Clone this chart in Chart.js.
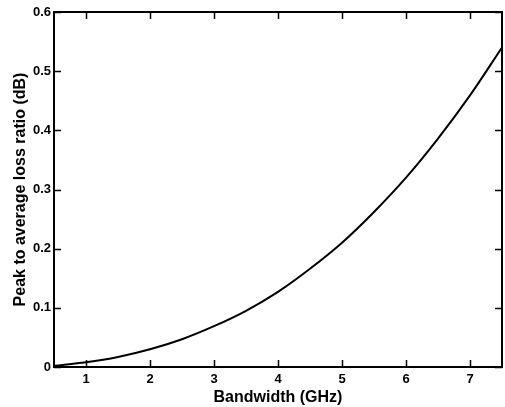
<!DOCTYPE html>
<html>
<head>
<meta charset="utf-8">
<script src="https://cdn.jsdelivr.net/npm/chart.js@4/dist/chart.umd.min.js"></script>
<style>
  html, body { margin: 0; padding: 0; background: #fff; }
  canvas { display: block; }
</style>
</head>
<body>
<canvas id="myChart" width="505" height="407"></canvas>
<script>
// values
const bandwidth = [0.5, 1, 1.5, 2, 2.5, 3, 3.5, 4, 4.5, 5, 5.5, 6, 6.5, 7, 7.5];
const lossRatio = [0.002, 0.008, 0.017, 0.030, 0.047, 0.069, 0.095, 0.127, 0.166, 0.210, 0.262, 0.320, 0.386, 0.459, 0.540];
const xTicks = [1, 2, 3, 4, 5, 6, 7];
const yTicks = [0, 0.1, 0.2, 0.3, 0.4, 0.5, 0.6];

// matlab style box with ticks pointing inward
const boxTicks = {
    id: 'boxTicks',
    afterDraw(chart) {
        const { ctx, chartArea: a, scales } = chart;
        const len = 7;
        ctx.save();
        ctx.strokeStyle = '#000';
        ctx.lineWidth = 1.5;
        ctx.beginPath();
        xTicks.forEach(v => {
            const px = Math.round(scales.x.getPixelForValue(v)) + 0.5;
            ctx.moveTo(px, a.bottom); ctx.lineTo(px, a.bottom - len);
            ctx.moveTo(px, a.top); ctx.lineTo(px, a.top + len);
        });
        yTicks.forEach(v => {
            const py = Math.round(scales.y.getPixelForValue(v)) + 0.5;
            ctx.moveTo(a.left, py); ctx.lineTo(a.left + len, py);
            ctx.moveTo(a.right, py); ctx.lineTo(a.right - len, py);
        });
        ctx.stroke();
        ctx.lineWidth = 2;
        ctx.strokeRect(a.left, a.top, a.right - a.left, a.bottom - a.top);
        ctx.restore();
    }
};

const font = 'Liberation Sans, Arial, sans-serif';

const ctx = document.getElementById('myChart').getContext('2d');
new Chart(ctx, {
    type: 'line',
    data: {
        datasets: [{
            data: bandwidth.map((x, i) => ({ x: x, y: lossRatio[i] })),
            borderColor: '#000',
            borderWidth: 2,
            pointRadius: 0,
            fill: false,
            cubicInterpolationMode: 'monotone'
        }]
    },
    options: {
        responsive: false,
        animation: false,
        layout: { padding: { top: 12, right: 3, left: 0, bottom: 0 } },
        plugins: { legend: { display: false }, tooltip: { enabled: false } },
        scales: {
            x: {
                type: 'linear',
                min: 0.5,
                max: 7.5,
                afterBuildTicks: s => { s.ticks = xTicks.map(v => ({ value: v })); },
                afterFit: s => { s.height = 40; },
                grid: { display: false, drawTicks: false },
                border: { display: false },
                ticks: {
                    padding: 5,
                    color: '#000',
                    font: { family: font, size: 13, weight: 'bold' }
                },
                title: {
                    display: true,
                    text: 'Bandwidth (GHz)',
                    color: '#000',
                    padding: { top: 0, bottom: 0 },
                    font: { family: font, size: 16, weight: 'bold' }
                }
            },
            y: {
                type: 'linear',
                min: 0,
                max: 0.6,
                afterBuildTicks: s => { s.ticks = yTicks.map(v => ({ value: v })); },
                afterFit: s => { s.width = 54; },
                grid: { display: false, drawTicks: false },
                border: { display: false },
                ticks: {
                    padding: 3,
                    color: '#000',
                    callback: v => String(v),
                    font: { family: font, size: 13, weight: 'bold' }
                },
                title: {
                    display: true,
                    text: 'Peak to average loss ratio (dB)',
                    color: '#000',
                    padding: { top: 11, bottom: 0 },
                    font: { family: font, size: 16, weight: 'bold' }
                }
            }
        }
    },
    plugins: [boxTicks]
});
</script>
</body>
</html>
